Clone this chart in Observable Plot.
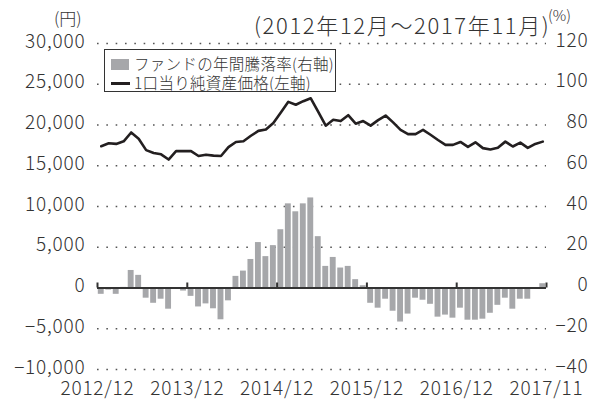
<!DOCTYPE html>
<html><head><meta charset="utf-8">
<script src="https://cdn.jsdelivr.net/npm/d3@7"></script>
<script src="https://cdn.jsdelivr.net/npm/@observablehq/plot@0.6"></script>
<style>
body{margin:0;background:#fff;}
#wrap{position:relative;width:591px;height:401px;font-family:"Noto Sans CJK JP","Noto Sans",sans-serif;font-weight:300;color:#333;}
.lbl{position:absolute;white-space:nowrap;line-height:1;}
#legend{position:absolute;left:104px;top:49px;width:230px;height:41px;border:1.5px solid #333;background:#fff;}
#legend .row{position:absolute;left:0;white-space:nowrap;font-size:15.5px;line-height:1;}
#legend .sw{position:absolute;left:6px;width:18px;height:11px;background:#a6a7aa;}
#legend .ln{position:absolute;left:6px;width:19px;height:3px;background:#231f20;}
#legend .tx{position:absolute;left:29px;letter-spacing:0.3px;}
svg{position:absolute;left:0;top:0;}
</style></head>
<body>
<div id="wrap"></div>
<script>
// x-axis tick labels and their month positions (0 = 2012/12)
const tickLabels = ["2012/12","2013/12","2014/12","2015/12","2016/12","2017/11"];
const tickMonths = [0, 12, 24, 36, 48, 60];

// Fund annual rate of change, % (right axis), monthly 2012/12 .. 2017/11
const changePct = [
  -3.1, -1.0, -3.1, 0.3, 8.6, 6.2, -5.0, -7.5, -5.5, -10.4,
  0.0, -1.5, -4.1, -9.3, -7.8, -10.2, -15.6, -6.3, 5.7, 8.3,
  14.0, 22.3, 15.4, 20.8, 28.6, 41.3, 37.4, 41.3, 44.2, 25.2,
  10.6, 15.0, 9.8, 10.6, 4.1, 1.1, -7.5, -9.9, -5.5, -11.4,
  -16.7, -12.8, -5.0, -6.0, -8.0, -14.3, -13.3, -14.8, -9.9, -15.8,
  -15.8, -15.3, -12.4, -8.5, -5.0, -10.4, -5.5, -5.5, -0.2, 2.1
];

// NAV per unit, yen (left axis)
const navYen = [
  17400, 17760, 17680, 18000, 19080, 18320, 16920, 16560, 16400, 15760,
  16800, 16800, 16800, 16200, 16360, 16240, 16200, 17280, 17920, 18000,
  18680, 19280, 19440, 20240, 21520, 22840, 22480, 22920, 23280, 21600,
  19920, 20640, 20480, 21200, 20160, 20480, 19920, 20600, 21160, 20320,
  19400, 18880, 18880, 19400, 18800, 18160, 17560, 17560, 17920, 17320,
  17880, 17160, 17000, 17200, 17960, 17360, 17840, 17200, 17680, 17960
];

// Axis ticks
const leftTicks = [-10000, -5000, 0, 5000, 10000, 15000, 20000, 25000, 30000];
const pctToYen = 250; // 120% <-> 30,000 yen

const fmt = d3.format(",");
const signed = v => v < 0 ? "\u2212" + fmt(-v) : fmt(v);

const chart = Plot.plot({
  width: 591, height: 401,
  marginLeft: 97, marginRight: 45, marginTop: 43, marginBottom: 32,
  style: {fontFamily: '"Noto Sans CJK JP","Noto Sans",sans-serif', fontWeight: 300, fontSize: "19px", color: "#333", background: "transparent", overflow: "visible", letterSpacing: "0.8px"},
  x: {domain: [0, 60]},
  y: {domain: [-10000, 30000]},
  marks: [
    Plot.gridY(leftTicks.filter(d => d !== 0), {stroke: "#555", strokeOpacity: 1, strokeWidth: 1.6, strokeDasharray: "1.6,7.73"}),
    Plot.rectY(changePct, {x1: (d, i) => i, x2: (d, i) => i + 1, y1: 0, y2: d => d * pctToYen, fill: "#a6a7aa", insetLeft: 0.8, insetRight: 0.8}),
    Plot.ruleY([0], {stroke: "#333", strokeWidth: 2}),
    Plot.ruleX(tickMonths, {x: d => d, y1: 0, y2: 0, insetTop: -5, stroke: "#333", strokeWidth: 2}),
    Plot.lineY(navYen, {x: (d, i) => i + 0.5, y: d => d, stroke: "#231f20", strokeWidth: 2.6, strokeLinejoin: "round"}),
    Plot.axisY(leftTicks, {anchor: "left", tickSize: 0, tickPadding: 12, tickFormat: signed, label: null, dy: -2}),
    Plot.axisY(leftTicks, {anchor: "right", tickSize: 0, tickPadding: 42, textAnchor: "end", tickFormat: d => signed(d / pctToYen), label: null, dy: -3}),
    Plot.axisX(tickMonths, {anchor: "bottom", tickSize: 0, tickPadding: 12, tickFormat: d => tickLabels[tickMonths.indexOf(d)], label: null})
  ]
});

const wrap = document.getElementById("wrap");
wrap.appendChild(chart);

function addLabel(text, left, top, size, spacing) {
  const el = document.createElement("div");
  el.className = "lbl";
  el.textContent = text;
  el.style.left = left + "px";
  el.style.top = top + "px";
  el.style.fontSize = size + "px";
  if (spacing) el.style.letterSpacing = spacing + "px";
  wrap.appendChild(el);
  return el;
}
addLabel("(円)", 54, 9, 17);
addLabel("(%)", 548, 7, 15);
addLabel("(2012年12月～2017年11月)", 254, 13, 22, 1.65);

const legend = document.createElement("div");
legend.id = "legend";
legend.innerHTML =
  '<div class="row" style="top:6px"><span class="sw" style="top:3px"></span><span class="tx">ファンドの年間騰落率(右軸)</span></div>' +
  '<div class="row" style="top:25px"><span class="ln" style="top:7px"></span><span class="tx">1口当り純資産価格(左軸)</span></div>';
wrap.appendChild(legend);
</script>
</body></html>
